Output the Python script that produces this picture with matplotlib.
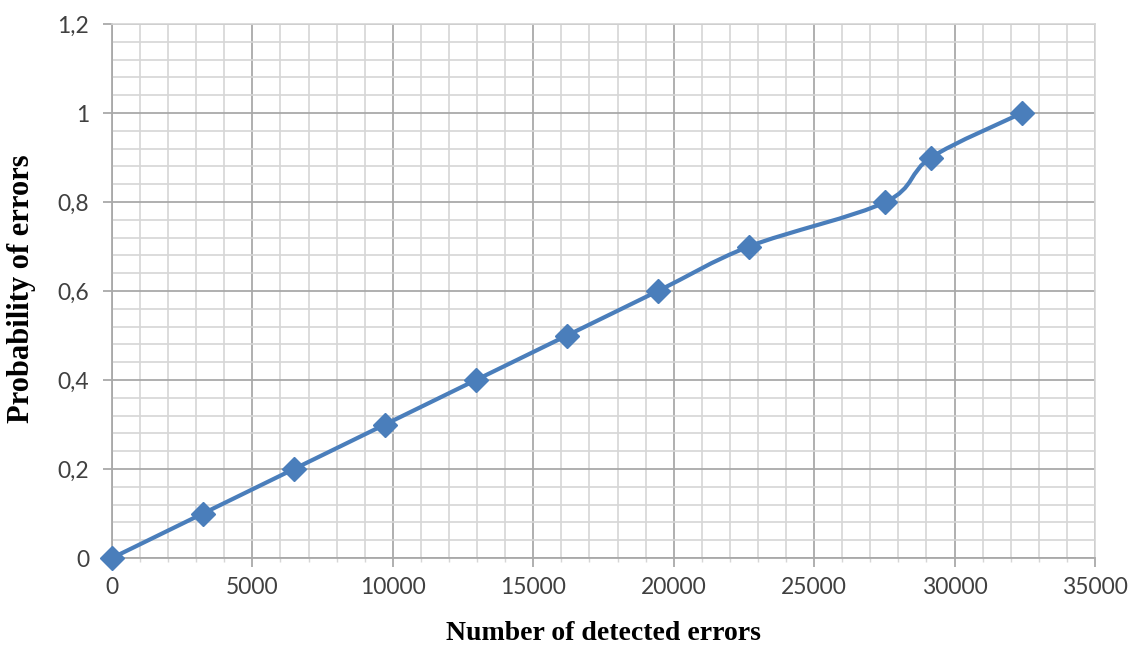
import numpy as np
from matplotlib import pyplot as plt
from matplotlib.path import Path
from matplotlib.patches import PathPatch
from matplotlib.ticker import MultipleLocator, FuncFormatter

# values
detected = [0, 3240, 6480, 9720, 12960, 16200, 19440, 22680, 27540, 29160, 32400]
probability = [0, 0.1, 0.2, 0.3, 0.4, 0.5, 0.6, 0.7, 0.8, 0.9, 1.0]

blue = '#4a7ebb'

fig = plt.figure(figsize=(11.32, 6.46), dpi=100)
ax = fig.add_axes([0.0989, 0.1362, 0.8684, 0.8266])

# smoothed line like the spreadsheet one (cubic bezier, catmull-rom control points)
pts = np.column_stack([detected, probability]).astype(float)
n = len(pts)
verts = [pts[0]]
codes = [Path.MOVETO]
for i in range(n - 1):
    p0 = pts[max(i - 1, 0)]
    p1 = pts[i]
    p2 = pts[i + 1]
    p3 = pts[min(i + 2, n - 1)]
    c1 = p1 + (p2 - p0) / 6
    c2 = p2 - (p3 - p1) / 6
    verts += [c1, c2, p2]
    codes += [Path.CURVE4] * 3
ax.add_patch(PathPatch(Path(verts, codes), fill=False, edgecolor=blue, lw=3.0,
                       capstyle='round', joinstyle='round', zorder=3))
ax.plot(detected, probability, linestyle='none', marker='D', markersize=12.5,
        color=blue, markeredgecolor=blue, zorder=4, clip_on=False)

ax.set_xlim(0, 35000)
ax.set_ylim(0, 1.2)
ax.xaxis.set_major_locator(MultipleLocator(5000))
ax.xaxis.set_minor_locator(MultipleLocator(1000))
ax.yaxis.set_major_locator(MultipleLocator(0.2))
ax.yaxis.set_minor_locator(MultipleLocator(0.04))
ax.yaxis.set_major_formatter(FuncFormatter(lambda v, p: ('%g' % round(v, 2)).replace('.', ',')))

ax.grid(which='major', color='#a9a9a9', lw=1.3)
ax.grid(which='minor', color='#d6d6d6', lw=1.2)
ax.set_axisbelow(True)

for s in ['top', 'right']:
    ax.spines[s].set_color('#d6d6d6')
    ax.spines[s].set_linewidth(1.2)
for s in ['left', 'bottom']:
    ax.spines[s].set_color('#a9a9a9')
    ax.spines[s].set_linewidth(1.3)

ax.tick_params(axis='both', which='major', length=6.5, width=1.3, color='#a9a9a9',
               labelsize=16.5, labelcolor='#404040')
ax.tick_params(axis='x', which='major', pad=7)
ax.tick_params(axis='y', which='major', pad=10)
ax.tick_params(axis='x', which='minor', length=3, width=1, color='#d6d6d6')
ax.tick_params(axis='y', which='minor', length=0)
for lab in ax.get_xticklabels() + ax.get_yticklabels():
    lab.set_family('Lato')

ax.set_xlabel('Number of detected errors', family='Liberation Serif', fontweight='bold',
              fontsize=20, va='center')
ax.set_ylabel('Probability of errors', family='Liberation Serif', fontweight='bold',
              fontsize=22, va='center')
ax.xaxis.set_label_coords(0.5, -0.142)
ax.yaxis.set_label_coords(-0.0916, 0.505)

fig.savefig('out.png', dpi=100)
